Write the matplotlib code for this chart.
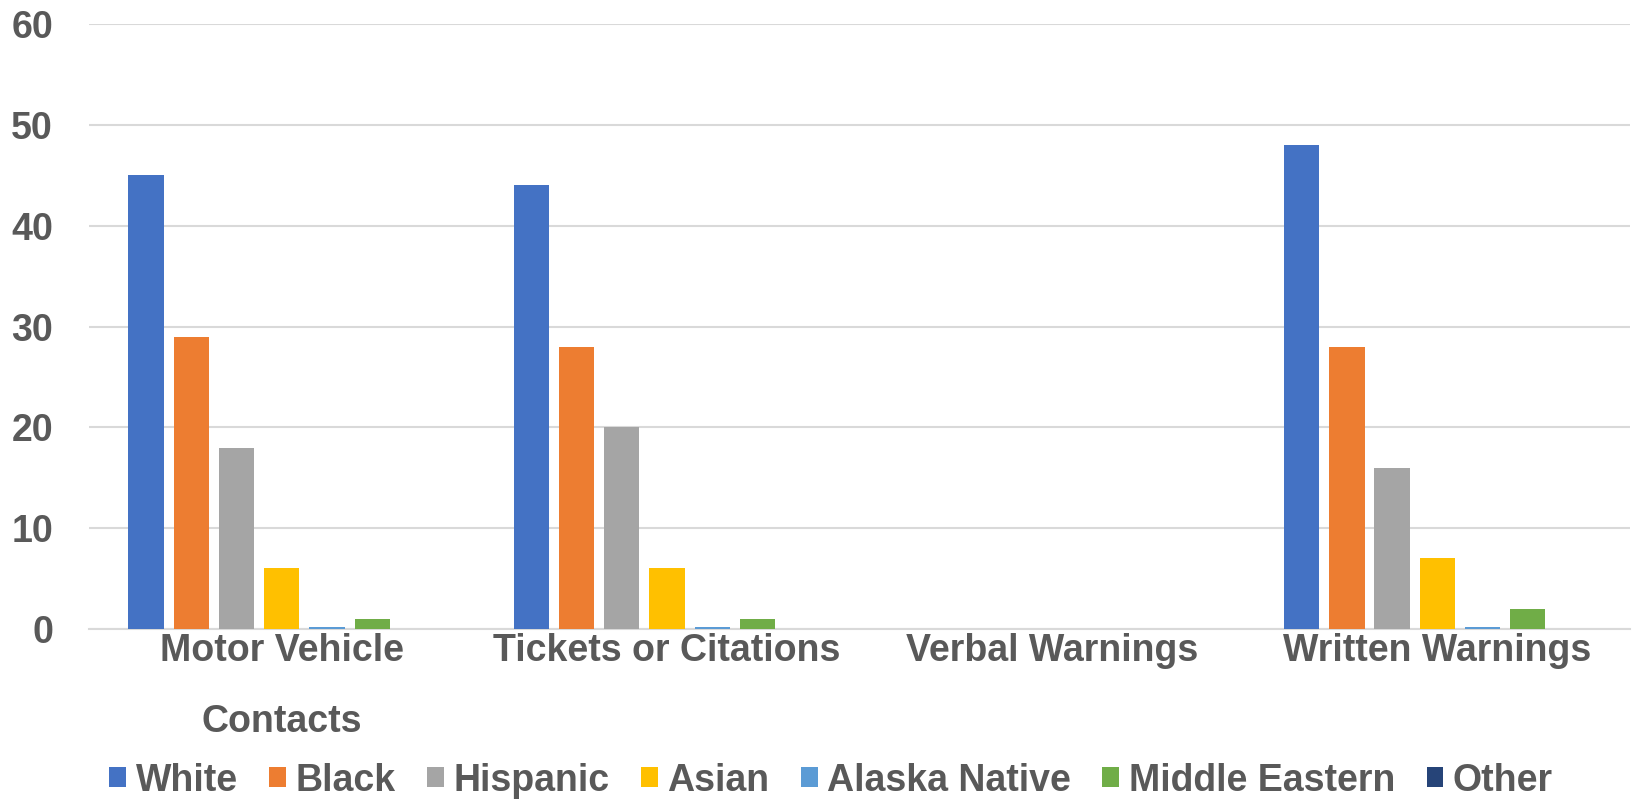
import matplotlib.pyplot as plt
import numpy as np

######################################################################

# CHART DATA

categories = ['Motor Vehicle\nContacts', 'Tickets or Citations', 'Verbal Warnings', 'Written Warnings']
series_names = ['White', 'Black', 'Hispanic', 'Asian', 'Alaska Native', 'Middle Eastern', 'Other']
white = [45, 44, 0, 48]
black = [29, 28, 0, 28]
hispanic = [18, 20, 0, 16]
asian = [6, 6, 0, 7]
alaska_native = [0.2, 0.2, 0, 0.2]
middle_eastern = [1, 1, 0, 2]
other = [0, 0, 0, 0]
y_ticks = [0, 10, 20, 30, 40, 50, 60]

colors = ['#4472C4', '#ED7D31', '#A5A5A5', '#FFC000', '#5B9BD5', '#70AD47', '#264478']
text_color = '#595959'

######################################################################

# PLOT

plt.rcParams['font.family'] = ['Liberation Sans', 'DejaVu Sans']
plt.rcParams['font.weight'] = 'bold'

fig = plt.figure(figsize=(16.36, 7.99), dpi=100)
ax = fig.add_axes([0.0545, 0.2128, 0.9418, 0.757])

all_series = [white, black, hispanic, asian, alaska_native, middle_eastern, other]
x = np.arange(len(categories))
step = 0.1174
width = 0.0917

for i, (name, vals) in enumerate(zip(series_names, all_series)):
    ax.bar(x + (i - 3) * step, vals, width=width, color=colors[i], label=name, zorder=3)

ax.set_xlim(-0.5, len(categories) - 0.5)
ax.set_ylim(0, 60)
ax.set_yticks(y_ticks)
ax.set_xticks(x)
ax.set_xticklabels(categories, fontsize=27, fontweight='bold', color=text_color, linespacing=2.25)
ax.tick_params(axis='y', labelsize=27, labelcolor=text_color, length=0, pad=26)
ax.tick_params(axis='x', length=0, pad=3)
for lbl in ax.get_yticklabels():
    lbl.set_fontweight('bold')

ax.grid(axis='y', color='#D9D9D9', linewidth=1.5, zorder=0)
for s in ['top', 'right', 'left']:
    ax.spines[s].set_visible(False)
ax.spines['bottom'].set_color('#D9D9D9')
ax.spines['bottom'].set_linewidth(1.5)

leg = fig.legend(loc='center', bbox_to_anchor=(0.508, 0.023), ncol=7, frameon=False,
                 fontsize=27, handlelength=0.45, handleheight=0.45, handletextpad=0.25,
                 columnspacing=0.84)
for t in leg.get_texts():
    t.set_color(text_color)
    t.set_fontweight('bold')

plt.savefig('out.png', dpi=100)
